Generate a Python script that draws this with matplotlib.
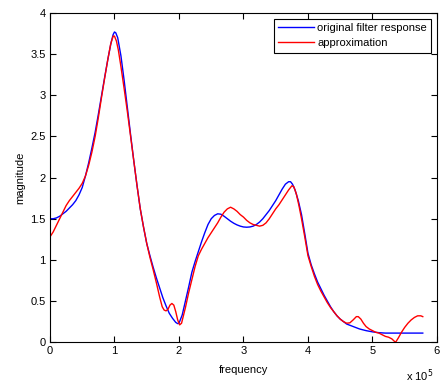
import matplotlib
matplotlib.use("Agg")
import matplotlib.pyplot as plt

plt.rcParams['font.family'] = ['Liberation Sans', 'DejaVu Sans']

# frequency in units of 1e5
freq_orig = [0, 0.05, 0.1, 0.15, 0.2, 0.25, 0.3, 0.35, 0.4, 0.45, 0.5, 0.55, 0.6, 0.65, 0.7,
             0.75, 0.8, 0.85, 0.9, 0.95, 0.98, 1.0, 1.02, 1.05, 1.1, 1.15, 1.2, 1.25, 1.3, 1.35,
             1.4, 1.45, 1.5, 1.55, 1.6, 1.65, 1.7, 1.75, 1.8, 1.85, 1.9, 1.95, 1.98, 2.0, 2.05,
             2.1, 2.15, 2.2, 2.25, 2.3, 2.35, 2.4, 2.45, 2.5, 2.55, 2.6, 2.65, 2.7, 2.75, 2.8,
             2.85, 2.9, 2.95, 3.0, 3.05, 3.1, 3.15, 3.2, 3.25, 3.3, 3.35, 3.4, 3.45, 3.5, 3.55,
             3.6, 3.65, 3.7, 3.73, 3.76, 3.8, 3.85, 3.9, 3.95, 4.0, 4.05, 4.1, 4.15, 4.2, 4.25,
             4.3, 4.35, 4.4, 4.45, 4.5, 4.55, 4.6, 4.7, 4.8, 4.9, 5.0, 5.1, 5.2, 5.4, 5.6, 5.78]
mag_orig = [1.50, 1.50, 1.51, 1.53, 1.56, 1.59, 1.63, 1.67, 1.72, 1.79, 1.88, 2.02, 2.18, 2.36, 2.55,
            2.77, 3.0, 3.23, 3.45, 3.65, 3.74, 3.77, 3.76, 3.70, 3.48, 3.18, 2.85, 2.52, 2.2, 1.9,
            1.62, 1.40, 1.2, 1.05, 0.91, 0.78, 0.66, 0.54, 0.44, 0.35, 0.29, 0.24, 0.225, 0.23, 0.33,
            0.50, 0.67, 0.85, 0.98, 1.10, 1.22, 1.33, 1.43, 1.50, 1.54, 1.56, 1.555, 1.53, 1.50, 1.47,
            1.445, 1.425, 1.41, 1.40, 1.397, 1.40, 1.41, 1.43, 1.46, 1.50, 1.55, 1.60, 1.66, 1.72, 1.79,
            1.86, 1.92, 1.95, 1.95, 1.92, 1.85, 1.72, 1.55, 1.32, 1.08, 0.94, 0.83, 0.73, 0.65, 0.57,
            0.50, 0.43, 0.37, 0.32, 0.28, 0.25, 0.22, 0.19, 0.16, 0.14, 0.125, 0.115, 0.11, 0.11, 0.11, 0.11]

freq_approx = [0, 0.05, 0.1, 0.15, 0.2, 0.25, 0.3, 0.35, 0.4, 0.45, 0.5, 0.55, 0.6, 0.65, 0.7,
               0.75, 0.8, 0.85, 0.9, 0.94, 0.98, 1.0, 1.03, 1.06, 1.1, 1.15, 1.2, 1.25, 1.3, 1.35,
               1.4, 1.45, 1.5, 1.55, 1.6, 1.65, 1.7, 1.74, 1.77, 1.8, 1.83, 1.86, 1.89, 1.92, 1.95,
               1.98, 2.01, 2.04, 2.1, 2.15, 2.2, 2.25, 2.3, 2.35, 2.4, 2.45, 2.5, 2.55, 2.6, 2.65,
               2.7, 2.75, 2.8, 2.85, 2.9, 2.95, 3.0, 3.05, 3.1, 3.15, 3.2, 3.25, 3.3, 3.35, 3.4,
               3.45, 3.5, 3.55, 3.6, 3.65, 3.7, 3.75, 3.78, 3.82, 3.86, 3.9, 3.95, 4.0, 4.05, 4.1,
               4.15, 4.2, 4.25, 4.3, 4.35, 4.4, 4.45, 4.5, 4.55, 4.6, 4.65, 4.7, 4.75, 4.78, 4.82,
               4.86, 4.9, 4.95, 5.0, 5.05, 5.1, 5.15, 5.2, 5.25, 5.3, 5.34, 5.36, 5.4, 5.45, 5.5,
               5.55, 5.6, 5.65, 5.7, 5.75, 5.78]
mag_approx = [1.28, 1.34, 1.42, 1.50, 1.58, 1.66, 1.72, 1.77, 1.82, 1.87, 1.93, 2.02, 2.15, 2.31, 2.5,
              2.73, 2.98, 3.22, 3.45, 3.62, 3.72, 3.72, 3.66, 3.55, 3.35, 3.08, 2.8, 2.5, 2.2, 1.9,
              1.62, 1.40, 1.2, 1.03, 0.88, 0.72, 0.55, 0.43, 0.39, 0.38, 0.40, 0.45, 0.47, 0.45, 0.37,
              0.27, 0.21, 0.23, 0.42, 0.60, 0.76, 0.92, 1.05, 1.13, 1.2, 1.27, 1.33, 1.39, 1.45, 1.52,
              1.58, 1.62, 1.64, 1.62, 1.59, 1.55, 1.52, 1.48, 1.45, 1.43, 1.42, 1.41, 1.42, 1.45, 1.5,
              1.56, 1.62, 1.67, 1.73, 1.79, 1.85, 1.90, 1.89, 1.80, 1.66, 1.50, 1.28, 1.05, 0.92, 0.80,
              0.70, 0.62, 0.55, 0.48, 0.42, 0.37, 0.32, 0.28, 0.25, 0.23, 0.235, 0.27, 0.31, 0.31, 0.28,
              0.23, 0.19, 0.16, 0.14, 0.12, 0.11, 0.09, 0.07, 0.06, 0.04, 0.01, 0.0, 0.05, 0.12, 0.18,
              0.23, 0.27, 0.30, 0.32, 0.32, 0.31]

xticks = [0, 1, 2, 3, 4, 5, 6]
yticks = [0, 0.5, 1, 1.5, 2, 2.5, 3, 3.5, 4]
ytick_labels = ['0', '0.5', '1', '1.5', '2', '2.5', '3', '3.5', '4']

fig = plt.figure(figsize=(4.4, 3.84), dpi=100)
ax = fig.add_axes([0.1136, 0.109, 0.8795, 0.857])
ax.plot(freq_orig, mag_orig, color='#0000ff', lw=1.0, label='original filter response')
ax.plot(freq_approx, mag_approx, color='#ff0000', lw=1.0, label='approximation')
ax.set_xlim(0, 6)
ax.set_ylim(0, 4)
ax.set_xticks(xticks)
ax.set_yticks(yticks)
ax.set_yticklabels(ytick_labels)
ax.tick_params(direction='in', length=4, width=0.8, top=True, right=True, labelsize=8, pad=3)
for s in ax.spines.values():
    s.set_linewidth(0.8)
ax.set_xlabel('frequency', fontsize=8, labelpad=6)
ax.set_ylabel('magnitude', fontsize=8, labelpad=4)
ax.text(0.99, -0.078, 'x 10$^5$', transform=ax.transAxes, ha='right', va='top', fontsize=8)
leg = ax.legend(loc='upper right', fontsize=8, frameon=True, fancybox=False,
                edgecolor='black', framealpha=1, borderpad=0.4, handlelength=3.2,
                handletextpad=0.3, labelspacing=0.45, borderaxespad=0.5)
leg.get_frame().set_linewidth(0.8)
fig.savefig('out.png', dpi=100)
